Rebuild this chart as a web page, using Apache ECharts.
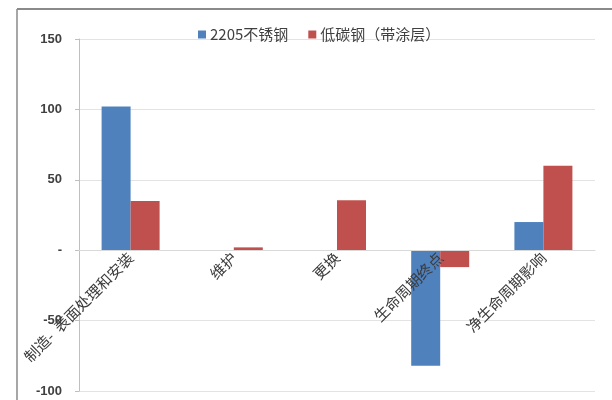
<!DOCTYPE html>
<html>
<head>
<meta charset="utf-8">
<script src="https://cdn.jsdelivr.net/npm/echarts@6/dist/echarts.min.js"></script>
<style>
  html, body { margin: 0; padding: 0; background: #fff; }
  #chart { width: 612px; height: 400px; }
</style>
</head>
<body>
<div id="chart"></div>
<script>
// Life-cycle impact by stage: duplex stainless vs coated carbon steel
const categories = ['制造-  表面处理和安装', '维护', '更换', '生命周期终点', '净生命周期影响'];
const seriesNames = ['2205不锈钢', '低碳钢（带涂层）'];
const stainless2205 = [102, 0, 0, -82, 20];
const coatedCarbon = [35, 2, 35.5, -12, 60];
const yTicks = { min: -100, max: 150, interval: 50 };

const gridBox = { left: 79, right: 17, top: 39, bottom: 9 };
const plotHeight = 400 - gridBox.top - gridBox.bottom;
// category labels hang from the zero line, not the bottom of the plot
const zeroOffset = -plotHeight * (0 - yTicks.min) / (yTicks.max - yTicks.min);

const chart = echarts.init(document.getElementById('chart'), null, { renderer: 'canvas' });

chart.setOption({
  animation: false,
  backgroundColor: '#ffffff',
  graphic: [
    { type: 'line', shape: { x1: 17, y1: 9, x2: 612, y2: 9 }, style: { stroke: '#8a8a8a', lineWidth: 2 } },
    { type: 'line', shape: { x1: 17, y1: 9, x2: 17, y2: 400 }, style: { stroke: '#8a8a8a', lineWidth: 1.5 } }
  ],
  legend: {
    top: 22,
    left: 193,
    itemWidth: 8,
    itemHeight: 8,
    itemGap: 20,
    icon: 'rect',
    textStyle: { fontFamily: 'Noto Sans CJK SC', fontSize: 15, color: '#404040', padding: [0, 0, 0, -1] },
    data: seriesNames
  },
  grid: Object.assign({ containLabel: false, outerBoundsMode: 'none' }, gridBox),
  xAxis: {
    type: 'category',
    data: categories,
    offset: zeroOffset,
    z: 10,
    axisLine: { onZero: false, lineStyle: { color: '#d9d9d9', width: 1 } },
    axisTick: { show: false },
    axisLabel: {
      rotate: 45,
      margin: 5,
      interval: 0,
      fontFamily: 'Noto Sans CJK SC',
      fontSize: 15,
      color: '#3a3a3a'
    }
  },
  yAxis: {
    type: 'value',
    min: yTicks.min,
    max: yTicks.max,
    interval: yTicks.interval,
    axisLine: { show: true, lineStyle: { color: '#bfbfbf', width: 1 } },
    axisTick: { show: true, length: 4, lineStyle: { color: '#bfbfbf' } },
    splitLine: { lineStyle: { color: '#e3e3e3', width: 1 } },
    axisLabel: {
      margin: 17,
      fontFamily: 'Liberation Sans',
      fontSize: 13,
      fontWeight: 'bold',
      color: '#404040',
      formatter: v => (v === 0 ? '-' : String(v))
    }
  },
  series: [
    {
      name: seriesNames[0],
      type: 'bar',
      data: stainless2205,
      barWidth: 29,
      barGap: '0%',
      itemStyle: { color: '#4f81bd' }
    },
    {
      name: seriesNames[1],
      type: 'bar',
      data: coatedCarbon,
      barWidth: 29,
      barGap: '0%',
      itemStyle: { color: '#c0504d' }
    }
  ]
});
</script>
</body>
</html>
